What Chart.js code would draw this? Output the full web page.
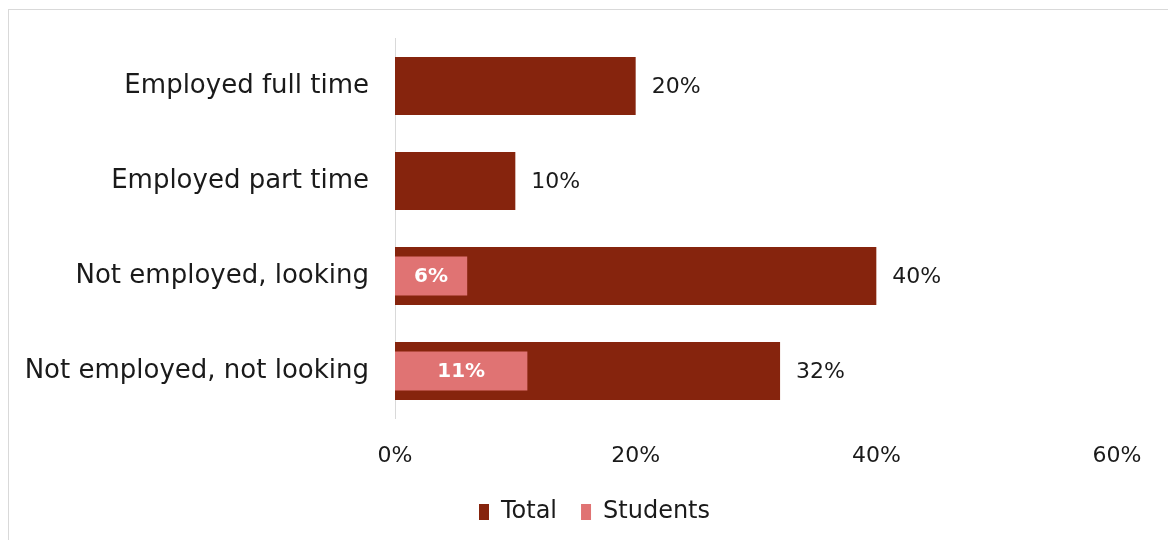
<!DOCTYPE html>
<html>
<head>
<meta charset="utf-8">
<script src="https://cdn.jsdelivr.net/npm/chart.js@4"></script>
<style>
  body { margin: 0; background: #fff; }
  #chartBox {
    position: absolute;
    left: 8px;
    top: 9px;
    width: 1159px;
    height: 530px;
    border-top: 1px solid #d9d9d9;
    border-left: 1px solid #d9d9d9;
  }
</style>
</head>
<body>
<div id="chartBox"><canvas id="statusChart"></canvas></div>
<script>
// Employment status, share of respondents
const categories = [
  "Employed full time",
  "Employed part time",
  "Not employed, looking",
  "Not employed, not looking",
];
const totalValues = [20, 10, 40, 32];
const studentValues = [null, null, 6, 11];
const xTicks = [0, 20, 40, 60];

const COLORS = {
  total: "#86240d",
  students: "#e07373",
  axis: "#d9d9d9",
  text: "#1a1a1a",
};

const FONT = "'DejaVu Sans', sans-serif";

// value labels: outside the Total bars, inside (white, bold) the Students bars
const valueLabels = {
  id: "valueLabels",
  afterDatasetsDraw(chart) {
    const ctx = chart.ctx;
    ctx.save();
    ctx.textBaseline = "middle";
    chart.data.datasets.forEach((ds, i) => {
      const meta = chart.getDatasetMeta(i);
      meta.data.forEach((bar, j) => {
        const v = ds.data[j];
        if (v == null) return;
        if (ds.label === "Total") {
          ctx.font = "22px " + FONT;
          ctx.fillStyle = COLORS.text;
          ctx.textAlign = "left";
          ctx.fillText(v + "%", bar.x + 16, bar.y + 1);
        } else {
          ctx.font = "bold 20px " + FONT;
          ctx.fillStyle = "#fff";
          ctx.textAlign = "center";
          ctx.fillText(v + "%", (bar.x + bar.base) / 2, bar.y + 1);
        }
      });
    });
    ctx.restore();
  },
};

new Chart(document.getElementById("statusChart"), {
  type: "bar",
  data: {
    labels: categories,
    datasets: [
      {
        label: "Total",
        data: totalValues,
        backgroundColor: COLORS.total,
        grouped: false,
        order: 1,
        categoryPercentage: 1,
        barPercentage: 0.61,
      },
      {
        label: "Students",
        data: studentValues,
        backgroundColor: COLORS.students,
        grouped: false,
        order: 0,
        categoryPercentage: 1,
        barPercentage: 0.41,
      },
    ],
  },
  options: {
    indexAxis: "y",
    responsive: true,
    maintainAspectRatio: false,
    animation: false,
    layout: {
      padding: { top: 28.5, right: 0, bottom: 6, left: 12 },
    },
    plugins: {
      legend: {
        position: "bottom",
        labels: {
          boxWidth: 10,
          boxHeight: 16,
          padding: 24,
          color: COLORS.text,
          font: { family: FONT, size: 24 },
          sort: (a, b) => a.datasetIndex - b.datasetIndex,
        },
      },
      tooltip: { enabled: false },
    },
    scales: {
      x: {
        min: 0,
        max: 60,
        afterBuildTicks: (scale) => {
          scale.ticks = xTicks.map((v) => ({ value: v }));
        },
        afterFit: (scale) => {
          scale.height = 57.5;
          scale.paddingLeft = 0;
          scale.paddingRight = 51; // room right of the 60% tick
        },
        grid: { display: false, drawTicks: false },
        border: { display: false },
        ticks: {
          padding: 24.5,
          color: COLORS.text,
          font: { family: FONT, size: 22 },
          callback: (v) => v + "%",
        },
      },
      y: {
        afterFit: (scale) => {
          scale.width = 374;
          scale.paddingTop = 0;
          scale.paddingBottom = 0;
        },
        grid: { display: false, drawTicks: false },
        border: { color: COLORS.axis, width: 1 },
        ticks: {
          padding: 26,
          color: COLORS.text,
          font: { family: FONT, size: 26 },
        },
      },
    },
  },
  plugins: [valueLabels],
});
</script>
</body>
</html>
